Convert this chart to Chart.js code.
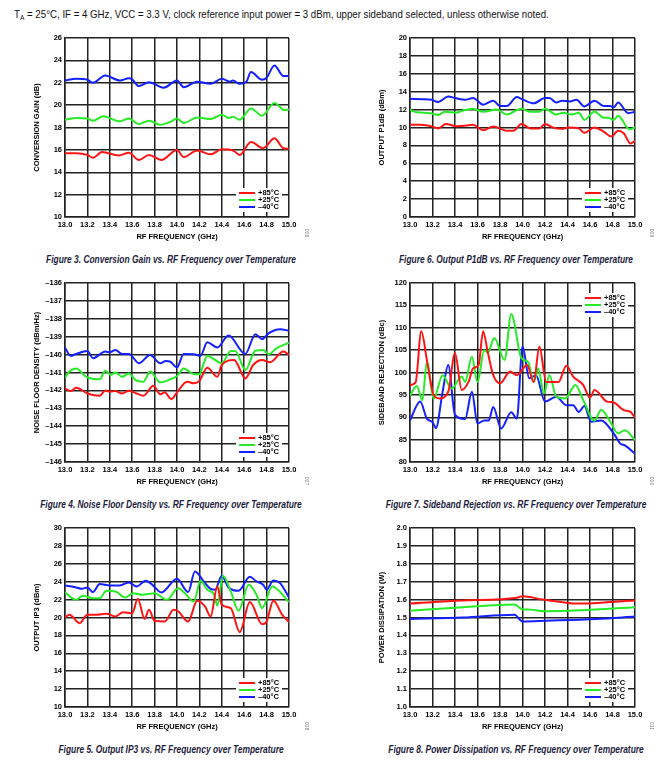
<!DOCTYPE html>
<html>
<head>
<meta charset="utf-8">
<script src="https://cdn.jsdelivr.net/npm/chart.js@4/dist/chart.umd.min.js"></script>
<style>
  body { margin: 0; background: #fff; width: 659px; height: 766px; position: relative; overflow: hidden; }
  canvas { position: absolute; }
  #hdr { position: absolute; left: 14px; top: 8px; white-space: nowrap; color: #111;
         transform: scaleX(0.88); transform-origin: 0 0;
         font: 11px "Liberation Sans", sans-serif; }
  #hdr sub { font-size: 7.5px; vertical-align: -2px; }
  .cap { position: absolute; white-space: nowrap; transform: translate(-50%, -50%) scaleX(0.84); color: #1c1c3c;
         font: italic bold 10px "Liberation Sans", sans-serif; }
  .code { position: absolute; white-space: nowrap; transform: translate(-50%, -50%) rotate(90deg); color: #777;
          font: 5px "Liberation Sans", sans-serif; }
</style>
</head>
<body>
<div id="hdr">T<sub>A</sub> = 25°C, IF = 4 GHz, VCC = 3.3 V, clock reference input power = 3 dBm, upper sideband selected, unless otherwise noted.</div>

<canvas id="c3" width="320" height="213" style="left:0;top:30px"></canvas>
<canvas id="c6" width="329" height="213" style="left:330px;top:30px"></canvas>
<canvas id="c4" width="320" height="213" style="left:0;top:275px"></canvas>
<canvas id="c7" width="329" height="213" style="left:330px;top:275px"></canvas>
<canvas id="c5" width="320" height="213" style="left:0;top:520px"></canvas>
<canvas id="c8" width="329" height="213" style="left:330px;top:520px"></canvas>

<div class="cap" style="left:171px;top:259px">Figure 3. Conversion Gain vs. RF Frequency over Temperature</div>
<div class="cap" style="left:516px;top:259px">Figure 6. Output P1dB vs. RF Frequency over Temperature</div>
<div class="cap" style="left:171px;top:504px">Figure 4. Noise Floor Density vs. RF Frequency over Temperature</div>
<div class="cap" style="left:516px;top:504px">Figure 7. Sideband Rejection vs. RF Frequency over Temperature</div>
<div class="cap" style="left:171px;top:749px">Figure 5. Output IP3 vs. RF Frequency over Temperature</div>
<div class="cap" style="left:516px;top:749px">Figure 8. Power Dissipation vs. RF Frequency over Temperature</div>

<div class="code" style="left:307px;top:233px">006</div>
<div class="code" style="left:652px;top:233px">009</div>
<div class="code" style="left:307px;top:481px">007</div>
<div class="code" style="left:652px;top:481px">010</div>
<div class="code" style="left:307px;top:726px">008</div>
<div class="code" style="left:652px;top:726px">011</div>

<script>
// series labels (legend) and colours
const tempLabels = ['+85\u00B0C', '+25\u00B0C', '\u201340\u00B0C'];
const tempColors = ['#ff1414', '#26ec26', '#1420ff'];

// [RF frequency (GHz), value]
// Figure 3: conversion gain (dB)
const gain85 = [[13.0,15.7],[13.1,15.7],[13.2,15.55],[13.25,15.3],[13.33,15.8],[13.48,15.5],[13.57,15.75],[13.66,15.1],[13.75,15.55],[13.86,15.1],[14.0,16.0],[14.06,15.35],[14.18,15.95],[14.3,15.6],[14.4,16.05],[14.5,15.95],[14.56,15.55],[14.66,16.7],[14.77,16.15],[14.87,17.05],[14.95,16.15],[15.0,16.1]];
const gain25 = [[13.0,18.7],[13.1,18.85],[13.2,18.8],[13.25,18.6],[13.34,19.0],[13.49,18.55],[13.57,18.8],[13.66,18.3],[13.75,18.6],[13.85,18.25],[13.94,18.5],[14.0,18.8],[14.06,18.4],[14.18,18.9],[14.3,18.75],[14.4,19.15],[14.46,18.85],[14.5,18.95],[14.56,18.7],[14.66,19.7],[14.76,19.05],[14.87,20.2],[14.96,19.55],[15.0,19.6]];
const gain40 = [[13.0,22.2],[13.1,22.35],[13.2,22.27],[13.25,22.0],[13.36,22.65],[13.49,22.2],[13.57,22.4],[13.6,22.3],[13.66,21.7],[13.75,22.05],[13.88,21.55],[14.0,22.2],[14.06,21.6],[14.18,22.1],[14.3,21.9],[14.4,22.35],[14.47,22.1],[14.5,22.2],[14.56,21.9],[14.62,22.1],[14.66,22.95],[14.76,22.27],[14.8,22.45],[14.87,23.55],[14.95,22.6],[15.0,22.6]];

// Figure 6: output P1dB (dBm)
const p1db85 = [[13.0,10.3],[13.1,10.3],[13.2,10.1],[13.25,9.9],[13.32,10.4],[13.41,10.15],[13.49,10.2],[13.56,10.3],[13.65,9.7],[13.74,10.1],[13.86,9.65],[13.92,9.65],[13.99,10.4],[14.07,9.9],[14.15,9.9],[14.2,10.4],[14.27,10.0],[14.35,9.85],[14.41,10.0],[14.5,9.9],[14.55,9.4],[14.64,10.0],[14.72,9.55],[14.79,9.0],[14.85,9.65],[14.9,9.35],[14.96,8.2],[15.0,8.5]];
const p1db25 = [[13.0,11.95],[13.06,11.7],[13.18,11.6],[13.25,11.4],[13.31,11.75],[13.41,11.65],[13.47,11.9],[13.56,12.1],[13.65,11.75],[13.77,12.0],[13.86,11.45],[13.95,11.95],[13.99,12.1],[14.07,11.75],[14.15,11.75],[14.2,12.1],[14.3,11.45],[14.36,11.65],[14.44,11.45],[14.5,11.65],[14.55,10.85],[14.64,11.8],[14.72,11.1],[14.76,11.1],[14.81,10.85],[14.85,11.3],[14.95,9.8],[15.0,10.0]];
const p1db40 = [[13.0,13.2],[13.12,13.15],[13.19,13.1],[13.25,12.85],[13.34,13.45],[13.4,13.3],[13.49,13.1],[13.56,13.3],[13.65,12.55],[13.74,13.0],[13.8,12.4],[13.86,12.4],[13.95,13.4],[13.99,13.2],[14.1,12.7],[14.2,13.3],[14.24,13.3],[14.3,12.8],[14.35,13.0],[14.42,12.9],[14.48,13.1],[14.55,12.35],[14.64,13.0],[14.72,12.4],[14.78,12.4],[14.81,12.25],[14.85,12.8],[14.94,11.6],[15.0,11.75]];

// Figure 4: noise floor density (dBm/Hz)
const nsd85 = [[13.0,-141.89],[13.05,-142.04],[13.1,-141.85],[13.2,-142.17],[13.31,-142.3],[13.36,-142.0],[13.4,-142.07],[13.45,-142.04],[13.51,-142.17],[13.57,-142.02],[13.64,-142.17],[13.7,-142.3],[13.79,-141.74],[13.85,-142.22],[13.89,-142.11],[13.95,-142.49],[14.0,-142.11],[14.09,-141.51],[14.15,-141.6],[14.2,-141.47],[14.27,-140.73],[14.36,-141.24],[14.4,-140.58],[14.51,-140.3],[14.61,-141.33],[14.68,-140.58],[14.76,-140.3],[14.83,-140.43],[14.95,-139.83],[15.0,-140.02]];
const nsd25 = [[13.0,-141.29],[13.04,-140.95],[13.1,-140.77],[13.19,-141.24],[13.31,-141.38],[13.36,-140.9],[13.41,-141.14],[13.45,-141.0],[13.51,-141.24],[13.57,-141.05],[13.63,-141.42],[13.7,-141.51],[13.76,-140.95],[13.85,-141.55],[13.94,-141.38],[14.0,-141.2],[14.06,-140.77],[14.15,-141.09],[14.2,-141.1],[14.24,-140.48],[14.27,-140.07],[14.33,-140.26],[14.4,-140.48],[14.48,-139.8],[14.52,-139.8],[14.61,-140.86],[14.7,-139.78],[14.77,-139.74],[14.82,-139.98],[14.89,-139.64],[15.0,-139.33]];
const nsd40 = [[13.0,-139.6],[13.05,-140.07],[13.1,-139.96],[13.2,-139.8],[13.25,-140.2],[13.36,-139.83],[13.4,-139.87],[13.45,-139.74],[13.51,-139.96],[13.57,-139.96],[13.66,-140.48],[13.76,-140.02],[13.85,-140.48],[13.9,-140.36],[13.94,-140.4],[14.0,-140.71],[14.06,-139.96],[14.15,-139.98],[14.21,-140.07],[14.27,-139.31],[14.36,-139.6],[14.46,-138.93],[14.61,-139.96],[14.7,-138.86],[14.76,-139.14],[14.82,-138.8],[14.92,-138.58],[15.0,-138.67]];

// Figure 7: sideband rejection (dBc)
const sbr85 = [[13.0,97.2],[13.05,97.8],[13.1,109.2],[13.15,102.8],[13.21,95.0],[13.26,94.2],[13.34,95.7],[13.4,104.3],[13.46,96.1],[13.52,97.9],[13.56,100.9],[13.61,101.7],[13.65,109.2],[13.69,104.7],[13.74,99.4],[13.8,97.6],[13.89,100.2],[13.95,99.4],[14.04,101.7],[14.1,97.9],[14.15,105.8],[14.21,97.9],[14.32,97.9],[14.39,101.5],[14.45,99.1],[14.54,97.2],[14.6,94.4],[14.64,96.1],[14.75,93.5],[14.81,93.3],[14.9,91.6],[14.96,91.2],[15.0,89.9]];
const sbr25 = [[13.0,94.8],[13.06,97.0],[13.11,93.8],[13.15,102.4],[13.21,94.1],[13.29,99.4],[13.37,96.4],[13.46,99.1],[13.49,97.9],[13.55,103.5],[13.6,97.9],[13.66,105.0],[13.69,104.4],[13.75,107.7],[13.84,102.8],[13.9,113.1],[13.99,103.2],[14.05,102.3],[14.1,97.9],[14.14,100.9],[14.19,95.3],[14.24,99.4],[14.3,94.6],[14.38,94.2],[14.47,97.2],[14.54,93.8],[14.64,89.2],[14.7,91.7],[14.78,89.0],[14.85,86.4],[14.91,87.1],[15.0,84.9]];
const sbr40 = [[13.0,89.3],[13.09,93.5],[13.15,89.7],[13.2,88.9],[13.23,87.6],[13.29,95.7],[13.34,101.7],[13.4,90.5],[13.49,89.6],[13.55,95.7],[13.6,88.6],[13.66,89.3],[13.7,89.3],[13.74,92.3],[13.81,87.5],[13.9,91.1],[13.95,89.7],[14.0,105.8],[14.06,98.7],[14.12,99.4],[14.2,93.5],[14.3,94.6],[14.39,92.7],[14.45,92.7],[14.5,91.2],[14.55,92.5],[14.61,89.0],[14.7,89.3],[14.81,86.4],[14.87,84.1],[14.91,83.7],[15.0,81.9]];

// Figure 5: output IP3 (dBm)
const ip385 = [[13.0,20.0],[13.04,20.3],[13.13,19.37],[13.2,20.3],[13.28,20.3],[13.37,20.41],[13.45,20.11],[13.52,20.6],[13.6,20.48],[13.65,22.09],[13.71,19.85],[13.75,20.86],[13.8,19.63],[13.89,19.55],[13.97,20.86],[14.01,20.7],[14.1,19.55],[14.18,21.87],[14.25,21.23],[14.3,20.11],[14.36,23.47],[14.4,21.42],[14.48,21.04],[14.56,18.36],[14.65,21.72],[14.76,19.25],[14.8,19.55],[14.86,21.87],[14.94,20.3],[15.0,19.48]];
const ip325 = [[13.0,22.8],[13.1,21.98],[13.16,22.43],[13.25,22.16],[13.31,22.16],[13.37,22.99],[13.45,22.91],[13.54,22.24],[13.61,22.72],[13.69,22.54],[13.8,22.72],[13.91,21.98],[14.01,23.28],[14.07,22.72],[14.15,21.79],[14.21,24.1],[14.27,23.1],[14.33,22.6],[14.36,21.34],[14.41,24.66],[14.48,22.91],[14.55,20.75],[14.64,23.66],[14.71,22.54],[14.76,21.04],[14.85,23.47],[15.0,21.72]];
const ip340 = [[13.0,23.58],[13.1,23.36],[13.15,23.2],[13.2,23.36],[13.25,22.84],[13.31,23.73],[13.4,23.58],[13.49,23.58],[13.57,23.92],[13.64,23.47],[13.72,24.1],[13.78,23.65],[13.86,22.8],[14.0,24.33],[14.1,22.84],[14.16,25.15],[14.24,24.0],[14.3,23.2],[14.34,23.1],[14.4,24.66],[14.46,23.36],[14.55,22.99],[14.65,24.55],[14.71,24.03],[14.77,23.65],[14.8,23.1],[14.86,24.14],[14.92,23.84],[15.0,22.24]];

// Figure 8: power dissipation (W)
const pd85 = [[13.0,1.578],[13.47,1.595],[13.95,1.61],[14.0,1.619],[14.18,1.6],[14.36,1.585],[14.48,1.578],[14.75,1.585],[15.0,1.595]];
const pd25 = [[13.0,1.538],[13.47,1.557],[13.93,1.572],[13.99,1.548],[14.07,1.544],[14.21,1.535],[14.51,1.54],[15.0,1.557]];
const pd40 = [[13.0,1.492],[13.47,1.5],[13.93,1.516],[14.0,1.478],[14.21,1.482],[14.66,1.492],[15.0,1.505]];

const gridColor = '#222';
const tickFont = { family: 'Liberation Sans', size: 7.5, weight: 'bold' };
const titleFont = { family: 'Liberation Sans', size: 7.5, weight: 'bold' };

// legend drawn inside the plot area, like the datasheet
const insideLegend = {
  id: 'insideLegend',
  afterDatasetsDraw(chart, args, opts) {
    const { ctx, chartArea: a } = chart;
    const y0 = opts.top ? a.top + 15 : a.bottom - 24;
    const x0 = a.right - 50;
    ctx.save();
    ctx.fillStyle = '#fff';
    ctx.fillRect(x0 - 3, y0 - 5, a.right - 7 - (x0 - 3), 24);
    ctx.font = 'bold 7.5px "Liberation Sans"';
    ctx.textBaseline = 'middle';
    chart.data.datasets.forEach((ds, i) => {
      const y = y0 + i * 7;
      ctx.strokeStyle = ds.borderColor;
      ctx.lineWidth = 2;
      ctx.beginPath();
      ctx.moveTo(x0, y);
      ctx.lineTo(x0 + 16, y);
      ctx.stroke();
      ctx.fillStyle = '#000';
      ctx.fillText(ds.label, x0 + 19, y);
    });
    ctx.restore();
  }
};

const fmtInt = v => (v < 0 ? '\u2013' + Math.abs(v) : String(v));
const fmt1 = v => v.toFixed(1);

const panels = [
  { id: 'c3', col: 0, yTitle: 'CONVERSION GAIN (dB)', min: 10, max: 26, step: 2, fmt: fmtInt, series: [gain85, gain25, gain40] },
  { id: 'c6', col: 1, yTitle: 'OUTPUT P1dB (dBm)', min: 0, max: 20, step: 2, fmt: fmtInt, series: [p1db85, p1db25, p1db40] },
  { id: 'c4', col: 0, yTitle: 'NOISE FLOOR DENSITY (dBm/Hz)', min: -146, max: -136, step: 1, fmt: fmtInt, series: [nsd85, nsd25, nsd40] },
  { id: 'c7', col: 1, yTitle: 'SIDEBAND REJECTION (dBc)', min: 80, max: 120, step: 5, fmt: fmtInt, series: [sbr85, sbr25, sbr40], legendTop: true },
  { id: 'c5', col: 0, yTitle: 'OUTPUT IP3 (dBm)', min: 10, max: 30, step: 2, fmt: fmtInt, series: [ip385, ip325, ip340] },
  { id: 'c8', col: 1, yTitle: 'POWER DISSIPATION (W)', min: 1.0, max: 2.0, step: 0.1, fmt: fmt1, series: [pd85, pd25, pd40] }
];

panels.forEach(p => {
  const pad = p.col === 0 ? { left: 31, right: 31 } : { left: 46, right: 24 };
  new Chart(document.getElementById(p.id), {
    type: 'line',
    data: {
      datasets: p.series.map((s, i) => ({
        label: tempLabels[i],
        data: s.map(([x, y]) => ({ x, y })),
        borderColor: tempColors[i],
        borderWidth: 2,
        pointRadius: 0,
        cubicInterpolationMode: 'monotone',
        fill: false
      }))
    },
    options: {
      responsive: false,
      animation: false,
      devicePixelRatio: 1,
      layout: { padding: { left: pad.left, right: pad.right, top: 8, bottom: 0 } },
      plugins: { legend: { display: false }, tooltip: { enabled: false }, insideLegend: { top: !!p.legendTop } },
      scales: {
        x: {
          type: 'linear', min: 13, max: 15,
          ticks: { stepSize: 0.2, callback: v => v.toFixed(1), font: tickFont, color: '#000', padding: 3, maxRotation: 0, autoSkip: false },
          grid: { color: gridColor, lineWidth: 1.5, drawTicks: false },
          border: { color: gridColor, width: 1.5 },
          title: { display: true, text: 'RF FREQUENCY (GHz)', font: titleFont, color: '#000', padding: { top: 0, bottom: 1.5 } },
          afterFit: s => { s.height = 26; }
        },
        y: {
          min: p.min, max: p.max,
          ticks: { stepSize: p.step, callback: p.fmt, font: tickFont, color: '#000', padding: 3, autoSkip: false },
          grid: { color: gridColor, lineWidth: 1.5, drawTicks: false },
          border: { color: gridColor, width: 1.5 },
          title: { display: true, text: p.yTitle, font: titleFont, color: '#000', padding: { top: 1.5, bottom: 0 } },
          afterFit: s => { s.width = 34; }
        }
      }
    },
    plugins: [insideLegend]
  });
});
</script>
</body>
</html>
